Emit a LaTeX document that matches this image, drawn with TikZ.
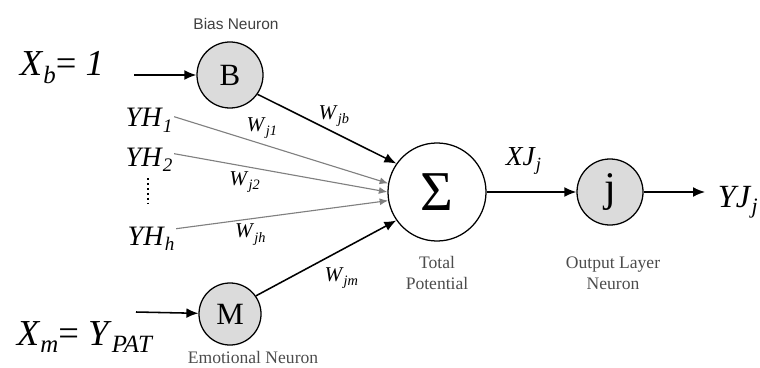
\documentclass[tikz,border=0pt]{standalone}
\usepackage{fontspec}
\setmainfont{Liberation Serif}
\newfontfamily\labelsans{Liberation Sans}
\usetikzlibrary{arrows.meta}
\newcommand{\isub}[2]{\textit{#1}\raisebox{-0.45ex}{\scalebox{0.68}{\textit{#2}}}}

\begin{document}
\begin{tikzpicture}[x=0.025cm, y=-0.025cm,
  neuron/.style={draw, circle, line width=0.9pt, fill=gray!28, inner sep=0pt},
  caption/.style={font=\fontsize{12.5}{15}\selectfont, text=black!70, align=center},
  weight/.style={font=\fontsize{15}{16}\selectfont},
  signal/.style={-{Latex[length=8.5pt,width=7pt]}, line width=1.1pt},
  hidden/.style={-{Latex[length=6pt,width=5pt]}, line width=0.8pt, draw=gray, color=gray}]
\useasboundingbox (0,0) rectangle (760,367);
% Neurons
\node[neuron, minimum size=1.65cm, font=\fontsize{22}{22}\selectfont] (bias) at (230,75) {B};
\node[neuron, minimum size=1.55cm, font=\fontsize{22}{22}\selectfont] (emo) at (230,314) {M};
\node[draw, circle, line width=0.9pt, minimum size=2.45cm, inner sep=0pt, font=\fontsize{40}{40}\selectfont] (sum) at (437,192) {Σ};
\node[neuron, minimum size=1.65cm, font=\fontsize{30}{30}\selectfont] (out) at (610,192) {j};
% Captions
\node[font=\labelsans\fontsize{11}{12}\selectfont, text=black!75] (biascap) at (236,24) {Bias Neuron};
\node[caption] (emocap) at (253,357) {Emotional Neuron};
\node[caption] (sumcap) at (437,273) {Total\\Potential};
\node[caption] (outcap) at (613,273) {Output Layer\\Neuron};
% Inputs and output
\node[anchor=base west, font=\fontsize{26}{28}\selectfont] (xb) at (15,76) {\isub{X}{b}= \textit{1}};
\node[anchor=base west, font=\fontsize{26}{28}\selectfont] (xm) at (12,345) {\isub{X}{m}= \isub{Y}{PAT}};
\coordinate (xbin) at (134,75);
\coordinate (xmin) at (136,312);
\node[anchor=base west, font=\fontsize{20}{22}\selectfont, inner sep=1pt] (yh1) at (124,127) {\isub{YH}{1}};
\node[anchor=base west, font=\fontsize{20}{22}\selectfont, inner sep=1pt] (yh2) at (124,166) {\isub{YH}{2}};
\node[anchor=base west, font=\fontsize{20}{22}\selectfont, inner sep=1pt] (yhh) at (126,245) {\isub{YH}{h}};
\node[anchor=base west, font=\fontsize{19.5}{21}\selectfont] (xj) at (501,165) {\isub{XJ}{j}};
\node[anchor=base west, font=\fontsize{23}{25}\selectfont] (yj) at (713,207) {\isub{YJ}{j}};
\coordinate (dtop) at (148,178);
\coordinate (dbot) at (148,204);
% Connections
\draw[signal] (xbin) -- (bias);
\draw[signal] (xmin) -- (emo);
\draw[signal] (bias.-35) -- node[weight, pos=0.55, above] {\isub{W}{jb}} (sum.145);
\draw[signal] (emo.35) -- node[weight, pos=0.45, below right] {\isub{W}{jm}} (sum.215);
\draw[hidden] (yh1.east) ++(0,-4) -- node[weight, text=black, pos=0.41, above] {\isub{W}{j1}} (sum.170);
\draw[hidden] (yh2.east) ++(0,-6) -- node[weight, text=black, pos=0.33, below] {\isub{W}{j2}} (sum.180);
\draw[hidden] (yhh.east) ++(0,-10) -- node[weight, text=black, pos=0.35, below] {\isub{W}{jh}} (sum.190);
\draw[line width=2pt, dash pattern=on 1.5pt off 2pt] (dtop) -- (dbot);
\draw[signal] (sum) -- (out);
\draw[signal] (out) -- (705,192) coordinate (yjin);
\end{tikzpicture}
\end{document}
